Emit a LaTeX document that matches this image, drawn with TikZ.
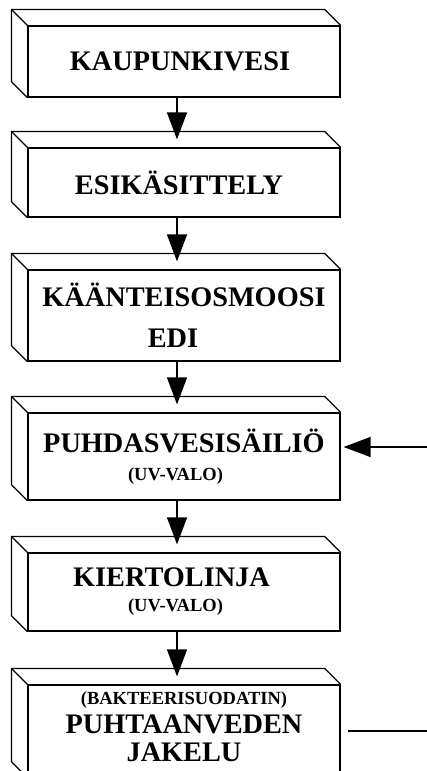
\documentclass[tikz,border=0pt]{standalone}
\usepackage{fontspec}
\setmainfont{Liberation Serif}
\usepackage{tikz}
\usetikzlibrary{arrows.meta}
\newcommand\pien{\fontsize{18.5}{21}\selectfont}

\begin{document}
\begin{tikzpicture}[x=1pt, y=-1pt,
  box/.style = {draw, line width=1.2pt, minimum width=312pt, inner sep=0pt, align=center,
    font=\bfseries\fontsize{28.3}{33}\selectfont},
  flow/.style = {line width=1.3pt, -{Triangle[length=27pt, width=20pt]}}]
  \useasboundingbox (0,0) rectangle (427,771);
  \clip (0,0) rectangle (427,771);
  \node[box, minimum height=71pt] (kaup) at (184,61.5) {KAUPUNKIVESI\hspace*{8pt}};
  \node[box, minimum height=69pt] (esik) at (184,182.5) {ESIKÄSITTELY\hspace*{10pt}};
  \node[box, minimum height=91pt] (ro) at (184,315.5) {KÄÄNTEISOSMOOSI\\[8pt]EDI\hspace*{22pt}};
  \node[box, minimum height=87pt] (sailio) at (184,456.5) {PUHDASVESISÄILIÖ\\[-5pt]{\pien (UV-VALO)}\hspace*{17pt}};
  \node[box, minimum height=78pt] (kierto) at (184,592) {KIERTOLINJA\hspace*{25pt}\\[-8pt]{\pien (UV-VALO)}\hspace*{17pt}};
  \node[box, minimum height=92pt] (jakelu) at (184,731) {{\pien (BAKTEERISUODATIN)}\\[-4pt]PUHTAANVEDEN\\[-5pt]JAKELU\rule[-9pt]{0pt}{0pt}};
  % sides
  \foreach \n in {kaup,esik,ro,sailio,kierto,jakelu}{
    \draw[line width=1.2pt] (\n.south west) -- ++(-16,-16) |- ([shift={(-16,-16)}]\n.north east) -- (\n.north east);
    \draw[line width=1.2pt] (\n.north west) -- ++(-16,-16);
  }
  \coordinate (inR) at (427,447);
  \coordinate (outR) at (427,731);
  \draw[flow] ([xshift=-7pt]kaup.south) -- ([xshift=-7pt,yshift=8pt]esik.north);
  \draw[flow] ([xshift=-7pt]esik.south) -- ([xshift=-7pt,yshift=8pt]ro.north);
  \draw[flow] ([xshift=-7pt]ro.south) -- ([xshift=-7pt,yshift=8pt]sailio.north);
  \draw[flow] ([xshift=-7pt]sailio.south) -- ([xshift=-7pt,yshift=8pt]kierto.north);
  \draw[flow] ([xshift=-7pt]kierto.south) -- ([xshift=-7pt,yshift=8pt]jakelu.north);
  \draw[flow] (inR) -- ([xshift=3pt,yshift=9.5pt]sailio.east);
  \draw[line width=1.3pt] (outR) -- ([xshift=7pt]jakelu.east);
\end{tikzpicture}
\end{document}
